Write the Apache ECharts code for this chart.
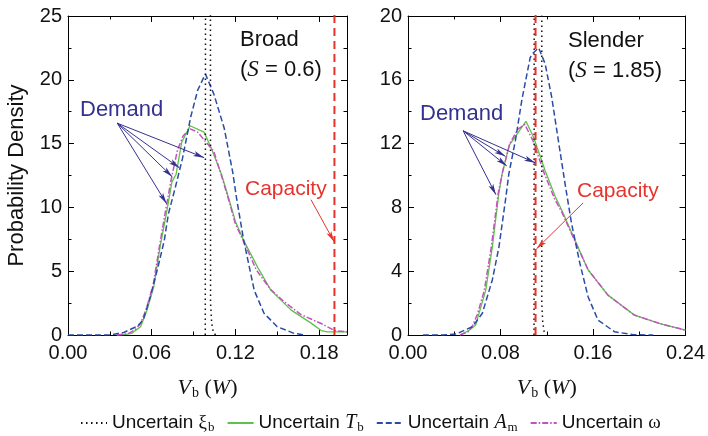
<!DOCTYPE html>
<html>
<head>
<meta charset="utf-8">
<script src="https://cdn.jsdelivr.net/npm/echarts@6/dist/echarts.min.js"></script>
<style>
  html, body { margin: 0; padding: 0; background: #fff; }
  #main { width: 708px; height: 436px; }
</style>
</head>
<body>
<div id="main"></div>
<script>
// 左图: Broad (S = 0.6)
const broadXi = [[0.0984, 0], [0.0986, 30], [0.1021, 30], [0.1022, 2.5], [0.1030, 0.9], [0.1042, 0.2], [0.1058, 0]];
const broadTb = [[0.035, 0], [0.042, 0.05], [0.046, 0.15], [0.052, 0.65], [0.0565, 1.9], [0.0615, 3.8], [0.066, 6.9],
  [0.071, 9.8], [0.0745, 12.0], [0.0775, 12.6], [0.0815, 15.1], [0.0875, 16.4], [0.0975, 15.9], [0.1025, 14.7],
  [0.110, 12.6], [0.1155, 10.6], [0.120, 8.9], [0.126, 7.4], [0.136, 5.3], [0.1455, 3.5], [0.160, 1.95],
  [0.174, 0.95], [0.1815, 0.35], [0.186, 0.25], [0.200, 0.25]];
const broadAm = [[0.000, 0], [0.030, 0], [0.040, 0.2], [0.050, 0.7], [0.054, 1.2], [0.059, 3.0], [0.064, 5.1],
  [0.069, 7.4], [0.072, 9.5], [0.077, 11.6], [0.082, 13.8], [0.088, 17.1], [0.093, 19.2], [0.0985, 20.45],
  [0.1045, 18.9], [0.112, 16.2], [0.118, 12.8], [0.121, 10.6], [0.126, 7.4], [0.1335, 3.5], [0.1405, 1.7],
  [0.150, 0.65], [0.162, 0.13], [0.170, 0]];
const broadOmega = [[0.035, 0], [0.043, 0.1], [0.048, 0.4], [0.052, 0.9], [0.056, 2.0], [0.061, 3.9], [0.0655, 6.9],
  [0.070, 9.8], [0.074, 12.2], [0.0785, 14.5], [0.0825, 15.6], [0.0875, 16.15], [0.093, 15.9], [0.0975, 15.3],
  [0.1045, 14.4], [0.110, 12.5], [0.116, 10.3], [0.120, 8.7], [0.126, 7.3], [0.135, 5.1], [0.145, 3.6],
  [0.155, 2.6], [0.167, 1.6], [0.1815, 0.9], [0.191, 0.35], [0.200, 0.25]];
const broadCap = [[0.191, 0], [0.191, 30]];

// 右图: Slender (S = 1.85)
const slenderXi = [[0.1090, 0], [0.1092, 30], [0.1157, 30], [0.1157, 2], [0.1165, 0.8], [0.1178, 0.2], [0.1190, 0]];
const slenderTb = [[0.045, 0], [0.0529, 0.3], [0.0586, 0.63], [0.0614, 1.36], [0.0672, 2.8], [0.0729, 5.5],
  [0.0786, 8.9], [0.0814, 10.1], [0.0876, 11.9], [0.102, 13.4], [0.1086, 12.4], [0.1186, 10.3], [0.1272, 8.7],
  [0.1329, 7.84], [0.1443, 5.96], [0.1557, 4.08], [0.1729, 2.5], [0.1957, 1.25], [0.2186, 0.7], [0.240, 0.3]];
const slenderAm = [[0.013, 0], [0.030, 0], [0.0415, 0.06], [0.0557, 0.52], [0.0643, 1.36], [0.0729, 3.45],
  [0.0786, 5.5], [0.0843, 8.46], [0.0872, 10.1], [0.0929, 12.2], [0.0986, 14.8], [0.1057, 17.4], [0.1085, 17.7],
  [0.113, 18.0], [0.1186, 17.0], [0.1243, 14.9], [0.130, 12.2], [0.136, 9.4], [0.1414, 7.0], [0.1486, 4.5],
  [0.1557, 2.4], [0.1643, 0.94], [0.1786, 0.2], [0.195, 0.02], [0.212, 0]];
const slenderOmega = [[0.045, 0], [0.052, 0.2], [0.056, 0.6], [0.060, 1.3], [0.066, 2.8], [0.072, 5.5],
  [0.078, 8.9], [0.082, 10.3], [0.088, 12.0], [0.095, 12.9], [0.101, 13.2], [0.108, 12.2], [0.118, 10.1],
  [0.127, 8.5], [0.133, 7.7], [0.1443, 5.9], [0.1557, 4.1], [0.1729, 2.5], [0.1957, 1.25], [0.2186, 0.7], [0.240, 0.3]];
const slenderCap = [[0.1103, 0], [0.1103, 30]];

// 箭头 (数据坐标): 起点, 终点
const broadDemandArrows = [[[0.0353, 16.6], [0.0976, 13.9]], [[0.0353, 16.6], [0.0799, 13.1]],
  [[0.0353, 16.6], [0.0747, 12.4]], [[0.0353, 16.6], [0.0706, 10.3]]];
const broadCapArrow = [[[0.1742, 10.6], [0.1908, 7.3]]];
const slenderDemandArrows = [[[0.0477, 12.8], [0.1099, 10.8]], [[0.0477, 12.8], [0.0842, 11.2]],
  [[0.0477, 12.8], [0.0854, 10.6]], [[0.0477, 12.8], [0.0760, 8.8]]];
const slenderCapArrow = [[[0.1514, 8.28], [0.1111, 5.4]]];

const broadTicks = { min: 0, max: 0.2, interval: 0.06 };
const slenderTicks = { min: 0, max: 0.24, interval: 0.08 };
const broadY = { min: 0, max: 25, interval: 5 };
const slenderY = { min: 0, max: 20, interval: 4 };

const legendNames = {
  xi: 'Uncertain {g|ξ}{s|b}',
  Tb: 'Uncertain {i|T}{s|b}',
  Am: 'Uncertain {i|A}{s|m}',
  omega: 'Uncertain {g|ω}'
};

const SANS = 'Liberation Sans';
const SERIF = 'Liberation Serif';
const INK = '#111';
const DEMAND = '#35318f';
const RED = '#e8322c';

const styles = {
  xi: { color: '#111', width: 1.5, type: [1.5, 3.5] },
  Tb: { color: '#5cc24a', width: 1.3, type: 'solid' },
  Am: { color: '#2a4ca6', width: 1.5, type: [6, 3] },
  omega: { color: '#c550c0', width: 1.5, type: [6, 2, 1.5, 2] },
  cap: { color: RED, width: 2, type: [8, 5] }
};

const myChart = echarts.init(document.getElementById('main'));

function axisBase(range, gridIndex, extra) {
  return Object.assign({
    type: 'value',
    gridIndex: gridIndex,
    min: range.min,
    max: range.max,
    interval: range.interval,
    axisLine: { show: true, onZero: false, lineStyle: { color: '#000', width: 1 } },
    axisTick: { show: true, inside: true, length: 6, lineStyle: { color: '#000' } },
    minorTick: { show: true, splitNumber: 2, length: 3.5, lineStyle: { color: '#000' } },
    splitLine: { show: false },
    minorSplitLine: { show: false }
  }, extra);
}

const tickLabel = (showMax) => ({
  show: true, color: INK, fontFamily: SANS, fontSize: 20, margin: 8,
  showMaxLabel: showMax,
  formatter: v => v.toFixed(2)
});
const yLabel = { show: true, color: INK, fontFamily: SANS, fontSize: 20, margin: 6, formatter: v => String(v) };

const xName = {
  name: '{i|V}{s|b}{n| (}{i|W}{n|)}',
  nameLocation: 'middle',
  nameGap: 41,
  nameTextStyle: {
    color: INK,
    rich: {
      i: { fontFamily: SERIF, fontStyle: 'italic', fontSize: 22, color: INK },
      n: { fontFamily: SERIF, fontSize: 22, color: INK },
      s: { fontFamily: SERIF, fontSize: 14, color: INK, padding: [10, 0, 0, 1] }
    }
  }
};

function arrowLines(list, color) {
  return {
    silent: true,
    symbol: ['none', 'arrow'],
    symbolSize: [4, 11],
    label: { show: false },
    lineStyle: { color: color, width: 1, type: 'solid' },
    emphasis: { disabled: true },
    data: list.map(a => [{ coord: a[0] }, { coord: a[1] }])
  };
}

function line(name, data, xi, yi, style, markLine) {
  const s = {
    name: name,
    type: 'line',
    xAxisIndex: xi,
    yAxisIndex: yi,
    data: data,
    symbol: 'none',
    clip: true,
    lineStyle: style,
    itemStyle: { color: style.color }
  };
  if (markLine) s.markLine = markLine;
  return s;
}

const option = {
  animation: false,
  backgroundColor: '#fff',
  grid: [
    { left: 68, top: 16, width: 279, height: 319 },
    { left: 408, top: 16, width: 280, height: 319 }
  ],
  xAxis: [
    axisBase(broadTicks, 0, Object.assign({ position: 'bottom', axisLabel: tickLabel(false) }, xName)),
    axisBase(broadTicks, 0, { position: 'top', axisLabel: { show: false } }),
    axisBase(slenderTicks, 1, Object.assign({ position: 'bottom', axisLabel: tickLabel(true) }, xName)),
    axisBase(slenderTicks, 1, { position: 'top', axisLabel: { show: false } })
  ],
  yAxis: [
    axisBase(broadY, 0, {
      position: 'left', axisLabel: yLabel,
      name: 'Probability Density', nameLocation: 'middle', nameGap: 40,
      nameTextStyle: { color: INK, fontFamily: SANS, fontSize: 22 }
    }),
    axisBase(broadY, 0, { position: 'right', axisLabel: { show: false } }),
    axisBase(slenderY, 1, { position: 'left', axisLabel: yLabel }),
    axisBase(slenderY, 1, { position: 'right', axisLabel: { show: false } })
  ],
  legend: {
    top: 408,
    left: 75,
    itemWidth: 26,
    itemHeight: 10,
    itemGap: 12,
    itemStyle: { opacity: 0 },
    data: ['xi', 'Tb', 'Am', 'omega'],
    formatter: n => legendNames[n],
    textStyle: {
      color: INK, fontFamily: SANS, fontSize: 19,
      rich: {
        g: { fontFamily: SERIF, fontSize: 19, color: INK },
        i: { fontFamily: SERIF, fontStyle: 'italic', fontSize: 20, color: INK },
        s: { fontFamily: SERIF, fontSize: 13, color: INK, padding: [9, 0, 0, 1] }
      }
    }
  },
  series: [
    line('Tb', broadTb, 0, 0, styles.Tb, arrowLines(broadDemandArrows, DEMAND)),
    line('omega', broadOmega, 0, 0, styles.omega),
    line('Am', broadAm, 0, 0, styles.Am),
    line('xi', broadXi, 0, 0, styles.xi),
    line('cap', broadCap, 0, 0, styles.cap, arrowLines(broadCapArrow, RED)),
    line('Tb', slenderTb, 2, 2, styles.Tb, arrowLines(slenderDemandArrows, DEMAND)),
    line('omega', slenderOmega, 2, 2, styles.omega),
    line('Am', slenderAm, 2, 2, styles.Am),
    line('xi', slenderXi, 2, 2, styles.xi),
    line('cap', slenderCap, 2, 2, styles.cap, arrowLines(slenderCapArrow, RED))
  ],
  graphic: [
    { type: 'text', left: 240, top: 29, style: { text: 'Broad', font: '22px "Liberation Sans"', fill: INK } },
    { type: 'text', left: 240, top: 58, style: {
      text: '({s|S} = 0.6)', font: '22px "Liberation Sans"', fill: INK,
      rich: { s: { fontFamily: SERIF, fontStyle: 'italic', fontSize: 23, fill: INK } } } },
    { type: 'text', left: 80, top: 99, style: { text: 'Demand', font: '22px "Liberation Sans"', fill: DEMAND } },
    { type: 'text', left: 245, top: 179, style: { text: 'Capacity', font: '21px "Liberation Sans"', fill: RED } },
    { type: 'text', left: 568, top: 30, style: { text: 'Slender', font: '22px "Liberation Sans"', fill: INK } },
    { type: 'text', left: 568, top: 59, style: {
      text: '({s|S} = 1.85)', font: '22px "Liberation Sans"', fill: INK,
      rich: { s: { fontFamily: SERIF, fontStyle: 'italic', fontSize: 23, fill: INK } } } },
    { type: 'text', left: 420, top: 103, style: { text: 'Demand', font: '22px "Liberation Sans"', fill: DEMAND } },
    { type: 'text', left: 577, top: 181, style: { text: 'Capacity', font: '21px "Liberation Sans"', fill: RED } }
  ]
};

myChart.setOption(option);
</script>
</body>
</html>
